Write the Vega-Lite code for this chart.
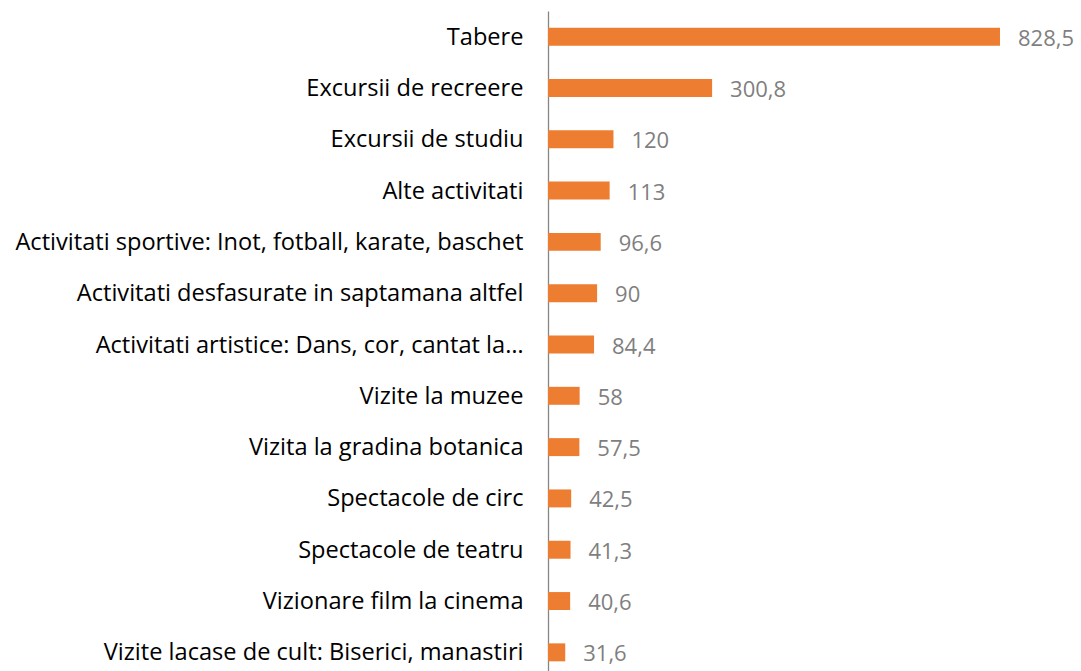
{
  "$schema": "https://vega.github.io/schema/vega-lite/v6.json",
  "autosize": {"type": "none"},
  "padding": {"left": 548, "top": 11, "right": 0, "bottom": 0},
  "width": 533,
  "height": 667,
  "background": "white",
  "config": {
    "view": {"stroke": null},
    "locale": {"number": {"decimal": ",", "thousands": ".", "grouping": [3], "currency": ["", " €"]}}
  },
  "data": {
    "values": [
      {"activitate": "Tabere", "valoare": 828.5},
      {"activitate": "Excursii de recreere", "valoare": 300.8},
      {"activitate": "Excursii de studiu", "valoare": 120},
      {"activitate": "Alte activitati", "valoare": 113},
      {"activitate": "Activitati sportive: Inot, fotball, karate, baschet", "valoare": 96.6},
      {"activitate": "Activitati desfasurate in saptamana altfel", "valoare": 90},
      {"activitate": "Activitati artistice: Dans, cor, cantat la…", "valoare": 84.4},
      {"activitate": "Vizite la muzee", "valoare": 58},
      {"activitate": "Vizita la gradina botanica", "valoare": 57.5},
      {"activitate": "Spectacole de circ", "valoare": 42.5},
      {"activitate": "Spectacole de teatru", "valoare": 41.3},
      {"activitate": "Vizionare film la cinema", "valoare": 40.6},
      {"activitate": "Vizite lacase de cult: Biserici, manastiri", "valoare": 31.6}
    ]
  },
  "encoding": {
    "y": {
      "field": "activitate", "type": "nominal", "sort": null,
      "scale": {"paddingInner": 0.65, "paddingOuter": 0.325},
      "axis": {
        "title": null, "ticks": false, "labelPadding": 25, "labelFont": "Open Sans", "labelFontSize": 23.6,
        "labelOffset": 1, "labelColor": "#000000", "labelLimit": 0, "domainColor": "#868686", "domainWidth": 1.3
      }
    },
    "x": {
      "field": "valoare", "type": "quantitative",
      "scale": {"domain": [0, 977], "nice": false, "zero": true},
      "axis": null
    }
  },
  "layer": [
    {"mark": {"type": "bar", "color": "#ED7D31"}},
    {
      "mark": {"type": "text", "align": "left", "baseline": "middle", "dx": 18, "dy": 2, "font": "Open Sans", "fontSize": 22, "color": "#7F7F7F"},
      "encoding": {"text": {"field": "valoare", "type": "quantitative", "format": "~g"}}
    }
  ]
}
